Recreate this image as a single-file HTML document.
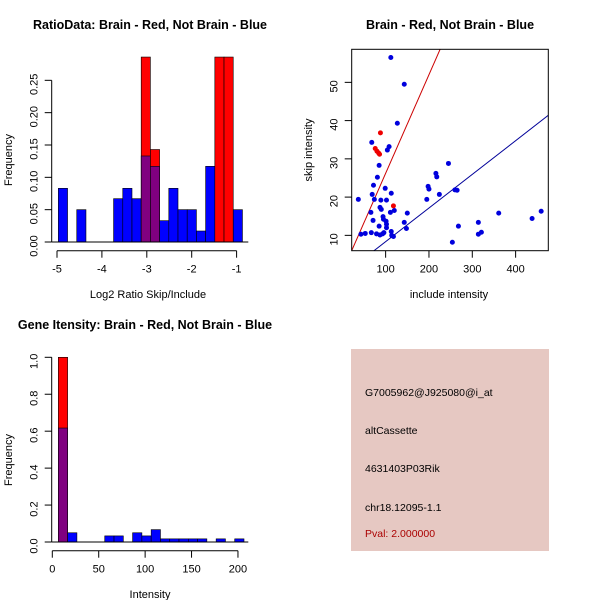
<!DOCTYPE html>
<html><head><meta charset="utf-8"><style>
body{margin:0;background:#fff;}
svg{display:block;font-family:"Liberation Sans",sans-serif;}
</style></head><body>
<svg id="c" width="600" height="600" xmlns="http://www.w3.org/2000/svg">
<rect width="600" height="600" fill="#fff"/>
</svg>
<script>
// ---- Panel 1 data: RatioData histogram ----
const ratioBinStart = -4.97;
const ratioBinWidth = 0.205;
const ratioBlue = [0.083,0,0.05,0,0,0,0.067,0.083,0.067,0.133,0.117,0.033,0.083,0.05,0.05,0.017,0.117,0,0,0.05];
const ratioRed  = [0,0,0,0,0,0,0,0,0,0.286,0.143,0,0,0,0,0,0,0.286,0.286,0];
const ratioXTicks = [-5,-4,-3,-2,-1];
const ratioYTicks = [0,0.05,0.10,0.15,0.20,0.25];
const ratioYLabels = ["0.00","0.05","0.10","0.15","0.20","0.25"];
// ---- Panel 2 data: scatter ----
const blueInc = [112,143,127,68,108,104,85,81,72,99,69,113,37,74,89,102,87,90,66,111,120,94,95,71,101,102,85,102,43,53,67,79,87,93,96,113,114,118,143,148,150,245,216,218,198,200,195,224,260,265,268,254,314,314,321,361,438,459];
const blueSkip = [56.5,49.5,39.3,34.3,33.2,32.3,28.3,25.2,23.1,22.3,20.7,21,19.4,19.4,19.2,19.2,17.3,16.8,16,16,16.5,14.9,14.2,13.9,13.7,12.9,12.4,12,10.3,10.5,10.7,10.4,10.1,10.4,10.7,11,10,9.7,13.4,11.8,15.8,28.8,26.2,25.3,22.8,22.1,19.4,20.7,21.9,21.8,12.4,8.2,13.4,10.3,10.8,15.8,14.4,16.3];
const redInc = [88,76,80,84,86,118];
const redSkip = [36.8,32.7,32,31.5,31.2,17.7];
const redFit = [0.4,0.258];   // intercept, slope
const blueFit = [-0.45,0.088];
const scatXTicks = [100,200,300,400];
const scatYTicks = [10,20,30,40,50];
// ---- Panel 3 data: intensity histogram ----
const intBinStart = 6.5;
const intBinWidth = 10;
const intBlue = [0.617,0.05,0,0,0,0.033,0.033,0,0.05,0.033,0.067,0.017,0.017,0.017,0.017,0.017,0,0.017,0,0.017];
const intRed  = [1.0,0,0,0,0,0,0,0,0,0,0,0,0,0,0,0,0,0,0,0];
const intXTicks = [0,50,100,150,200];
const intYTicks = [0,0.2,0.4,0.6,0.8,1.0];
const intYLabels = ["0.0","0.2","0.4","0.6","0.8","1.0"];

const svg = document.getElementById('c');
const NS = 'http://www.w3.org/2000/svg';
function mk(tag, attrs, parent){
  const e = document.createElementNS(NS, tag);
  for (const k in attrs) e.setAttribute(k, attrs[k]);
  (parent||svg).appendChild(e);
  return e;
}
function txt(s, x, y, opts, parent){
  const t = mk('text', Object.assign({x:x,y:y,'font-size':11,'text-anchor':'middle',fill:'#000'}, opts||{}), parent);
  t.textContent = s;
  return t;
}

function histogram(g, o){
  const sx = v => o.x0 + (v - o.xv0) * o.kx;
  const sy = v => o.y0 - v * o.ky;
  const n = o.blue.length;
  for (let i = 0; i < n; i++){
    const a = sx(o.start + i*o.w), b = sx(o.start + (i+1)*o.w);
    const r = o.red[i], bl = o.blue[i];
    const hi = Math.max(r, bl), lo = Math.min(r, bl);
    if (hi > 0){
      const top = mk('rect',{x:a,y:sy(hi),width:b-a,height:sy(0)-sy(hi),fill: r>=bl? '#ff0000':'#0000ff',stroke:'#000','stroke-width':0.6}, g);
      
      
    }
    if (lo > 0){
      const ov = mk('rect',{x:a,y:sy(lo),width:b-a,height:sy(0)-sy(lo),fill:'#800080',stroke:'#000','stroke-width':0.6}, g);
      
      
    }
  }
  mk('line',{x1:o.bx1,x2:o.bx2,y1:sy(0),y2:sy(0),stroke:'#000'}, g);
  // x axis
  const xa = mk('g',{}, g);
  
  
  const xt = o.xticks;
  mk('line',{x1:sx(xt[0]),x2:sx(xt[xt.length-1]),y1:o.axY,y2:o.axY,stroke:'#000'}, xa);
  xt.forEach(v => {
    mk('line',{x1:sx(v),x2:sx(v),y1:o.axY,y2:o.axY+7,stroke:'#000'}, xa);
    txt(String(v), sx(v), o.axY+22, {}, xa);
  });
  // y axis
  const ya = mk('g',{}, g);
  
  
  const yt = o.yticks;
  mk('line',{x1:o.axX,x2:o.axX,y1:sy(yt[0]),y2:sy(yt[yt.length-1]),stroke:'#000'}, ya);
  yt.forEach((v,i) => {
    mk('line',{x1:o.axX-7,x2:o.axX,y1:sy(v),y2:sy(v),stroke:'#000'}, ya);
    txt(o.ylabels[i], o.axX-14, sy(v)+4, {transform:`rotate(-90 ${o.axX-14} ${sy(v)+4})`, 'text-anchor':'middle'}, ya);
  });
}

// Panel 1
const g1 = mk('g',{});  
histogram(g1,{id:'ratio',x0:57,xv0:-5,kx:44.9,y0:242,ky:646.7,start:ratioBinStart,w:ratioBinWidth,blue:ratioBlue,red:ratioRed,
  bx1:51.7,bx2:248.3,axY:250.7,axX:51.7,xticks:ratioXTicks,yticks:ratioYTicks,ylabels:ratioYLabels});
let t = txt('RatioData: Brain - Red, Not Brain - Blue',150,29,{'font-weight':'bold','font-size':12.5});  
t = txt('Log2 Ratio Skip/Include',148,298);  
t = txt('Frequency',12,160,{transform:'rotate(-90 12 160)'});  

// Panel 2 scatter
const g2 = mk('g',{});  
const px = v => 342.3 + v*0.4333;
const py = v => 273.6 - v*3.825;
const L=351.7,R=548.3,T=49.3,B=250.7;
const cp = mk('clipPath',{id:'clip2'}, g2); mk('rect',{x:L,y:T,width:R-L,height:B-T}, cp);
const lines = mk('g',{'clip-path':'url(#clip2)'}, g2);
[[redFit,'#cc0000','red-fit-line'],[blueFit,'#000099','blue-fit-line']].forEach(([f,c,n])=>{
  const xa=0, xb=600;
  const l = mk('line',{x1:px(xa),y1:py(f[0]+f[1]*xa),x2:px(xb),y2:py(f[0]+f[1]*xb),stroke:c,'stroke-width':1}, lines);
  
  
});
blueInc.forEach((v,i)=>{
  const c = mk('circle',{cx:px(v),cy:py(blueSkip[i]),r:2.5,fill:'#0000dd'}, g2);
  
  
});
redInc.forEach((v,i)=>{
  const c = mk('circle',{cx:px(v),cy:py(redSkip[i]),r:2.5,fill:'#ee0000'}, g2);
  
  
});
mk('rect',{x:L,y:T,width:R-L,height:B-T,fill:'none',stroke:'#000'}, g2);
scatXTicks.forEach(v=>{ mk('line',{x1:px(v),x2:px(v),y1:B,y2:B+7,stroke:'#000'},g2); txt(String(v),px(v),B+22,{},g2); });
scatYTicks.forEach(v=>{ mk('line',{x1:L-7,x2:L,y1:py(v),y2:py(v),stroke:'#000'},g2); txt(String(v),L-14,py(v)+4,{transform:`rotate(-90 ${L-14} ${py(v)+4})`},g2); });
t = txt('Brain - Red, Not Brain - Blue',450,29,{'font-weight':'bold','font-size':12.5});  
t = txt('include intensity',449,298);  
t = txt('skip intensity',312,150,{transform:'rotate(-90 312 150)'});  

// Panel 3
const g3 = mk('g',{});  
histogram(g3,{id:'intensity',x0:52.3,xv0:0,kx:0.9283,y0:542,ky:184.7,start:intBinStart,w:intBinWidth,blue:intBlue,red:intRed,
  bx1:51.7,bx2:248.3,axY:550.7,axX:51.7,xticks:intXTicks,yticks:intYTicks,ylabels:intYLabels});
t = txt('Gene Itensity: Brain - Red, Not Brain - Blue',145,329,{'font-weight':'bold','font-size':12.5});  
t = txt('Intensity',150,598);  
t = txt('Frequency',12,460,{transform:'rotate(-90 12 460)'});  

// Panel 4 info box
const g4 = mk('g',{});  
mk('rect',{x:351,y:349,width:198,height:202,fill:'#e6c8c2'}, g4);
const info = [['G7005962@J925080@i_at',396,'#000','probe-id'],['altCassette',434,'#000','event-type'],['4631403P03Rik',472,'#000','gene-name'],['chr18.12095-1.1',511,'#000','location'],['Pval: 2.000000',537,'#aa0000','p-value']];
info.forEach(([s,y,c,n])=>{
  const e = txt(s,365,y,{'text-anchor':'start',fill:c,'font-size':10.5},g4);
  
  
});
</script>
</body></html>
